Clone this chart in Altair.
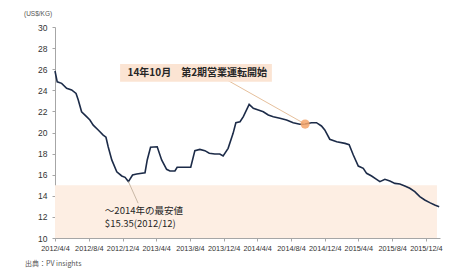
import altair as alt
import pandas as pd

# ---- price series (US$/kg) ----
dates = [
    "2012-04-04", "2012-04-12", "2012-04-28", "2012-05-16", "2012-06-03", "2012-06-19",
    "2012-06-27", "2012-07-09", "2012-07-27", "2012-08-08", "2012-08-20", "2012-09-07",
    "2012-09-25", "2012-10-05", "2012-10-13", "2012-10-26", "2012-11-13", "2012-12-01",
    "2012-12-13", "2012-12-25", "2013-01-09", "2013-01-24", "2013-02-23", "2013-03-03",
    "2013-03-15", "2013-04-08", "2013-04-24", "2013-05-12", "2013-05-24", "2013-06-11",
    "2013-06-19", "2013-08-07", "2013-08-22", "2013-09-09", "2013-09-27", "2013-10-13",
    "2013-11-02", "2013-11-20", "2013-12-02", "2013-12-20", "2014-01-07", "2014-01-17",
    "2014-02-01", "2014-02-13", "2014-03-06", "2014-03-21", "2014-04-08", "2014-04-26",
    "2014-05-14", "2014-06-01", "2014-06-25", "2014-07-19", "2014-08-12", "2014-09-05",
    "2014-09-24", "2014-10-17", "2014-11-04", "2014-11-22", "2014-12-04", "2014-12-22",
    "2015-01-16", "2015-02-15", "2015-03-02", "2015-03-17", "2015-04-04", "2015-04-22",
    "2015-05-04", "2015-05-22", "2015-06-09", "2015-06-21", "2015-07-09", "2015-07-27",
    "2015-08-14", "2015-09-01", "2015-09-19", "2015-10-07", "2015-10-25", "2015-11-12",
    "2015-11-30", "2015-12-18", "2016-01-05", "2016-01-21",
]
prices = [
    25.83, 24.80, 24.66, 24.19, 24.03, 23.70,
    23.08, 21.97, 21.50, 21.18, 20.70, 20.24,
    19.76, 19.55, 18.65, 17.40, 16.28, 15.88,
    15.75, 15.35, 15.97, 16.07, 16.19, 17.40,
    18.60, 18.65, 17.40, 16.51, 16.35, 16.35,
    16.70, 16.70, 18.28, 18.40, 18.28, 18.03,
    17.96, 17.96, 17.77, 18.50, 19.92, 20.93,
    21.02, 21.50, 22.67, 22.29, 22.13, 21.97,
    21.66, 21.50, 21.35, 21.18, 20.93, 20.78,
    20.80, 20.93, 20.93, 20.62, 20.24, 19.36,
    19.13, 18.97, 18.85, 17.87, 16.82, 16.60,
    16.13, 15.88, 15.56, 15.34, 15.56, 15.40,
    15.18, 15.12, 14.93, 14.71, 14.39, 13.92,
    13.60, 13.35, 13.13, 12.97,
]

# ---- axis ticks ----
tick_dates = [(2012, 4), (2012, 8), (2012, 12), (2013, 4), (2013, 8), (2013, 12),
              (2014, 4), (2014, 8), (2014, 12), (2015, 4), (2015, 8), (2015, 12)]
y_ticks = [10, 12, 14, 16, 18, 20, 22, 24, 26, 28, 30]

# ---- annotations ----
band_x = ["2012-04-04"]
band_x2 = ["2016-01-13"]
band_low = [10]
band_high = [15]

note1_text = ["14年10月　第2期営業運転開始"]
note1_box_x = ["2012-11-25"]
note1_box_x2 = ["2014-05-27"]
note1_box_y = [24.8]
note1_box_y2 = [26.5]
note1_text_x = ["2012-12-22"]
note1_text_y = [25.65]
note1_leader_x = ["2013-12-16"]
note1_leader_y = [24.98]
marker_x = ["2014-09-24"]
marker_y = [20.8]

note2_lines = ["～2014年の最安値", "$15.35(2012/12)"]
note2_x = ["2012-10-01", "2012-10-01"]
note2_y = [12.55, 11.3]
low_x = ["2012-12-25"]
low_y = [15.35]
note2_leader_x = ["2013-01-29"]
note2_leader_y = [13.3]

source_text = ["出典：PV insights"]
unit_text = ["(US$/KG)"]

JP = "Noto Sans CJK JP"

df = pd.DataFrame({"date": dates, "price": prices})

x_scale = alt.Scale(
    type="utc",
    domain=[alt.DateTime(year=2012, month=4, date=4, utc=True),
            alt.DateTime(year=2016, month=1, date=24, utc=True)],
)
y_scale = alt.Scale(domain=[10, 30], nice=False, zero=False)

x_axis = alt.Axis(
    values=[alt.DateTime(year=y, month=m, date=4, utc=True) for y, m in tick_dates],
    format="%Y/%-m/%-d", title=None, grid=False, labelOverlap=False,
    labelFont="Liberation Sans", labelFontSize=7.3, labelColor="#333333",
    domainColor="#a6a6a6", tickColor="#a6a6a6", tickSize=3, labelPadding=3,
    labelFlush=False,
)
y_axis = alt.Axis(
    values=y_ticks, title=None, grid=False, labelOverlap=False,
    labelFont="Liberation Sans", labelFontSize=8.5, labelColor="#333333",
    domainColor="#a6a6a6", tickColor="#a6a6a6", tickSize=3, labelPadding=5,
)

band = alt.Chart(pd.DataFrame({"x": band_x, "x2": band_x2, "y": band_low, "y2": band_high})).mark_rect(
    color="#fdeee3"
).encode(
    x=alt.X("x:T", scale=x_scale, axis=x_axis),
    x2="x2:T",
    y=alt.Y("y:Q", scale=y_scale, axis=y_axis),
    y2="y2:Q",
)

line = alt.Chart(df).mark_line(color="#1c2b48", strokeWidth=1.6).encode(
    x=alt.X("date:T", scale=x_scale, axis=x_axis),
    y=alt.Y("price:Q", scale=y_scale, axis=y_axis),
)

leader1 = alt.Chart(pd.DataFrame({"x": note1_leader_x, "y": note1_leader_y,
                                  "x2": marker_x, "y2": marker_y})).mark_rule(
    color="#e6c09c", strokeWidth=1
).encode(x=alt.X("x:T", scale=x_scale, axis=x_axis), y=alt.Y("y:Q", scale=y_scale, axis=y_axis),
         x2="x2:T", y2="y2:Q")

box1 = alt.Chart(pd.DataFrame({"x": note1_box_x, "x2": note1_box_x2,
                               "y": note1_box_y, "y2": note1_box_y2})).mark_rect(
    color="#fbe4d3"
).encode(x=alt.X("x:T", scale=x_scale, axis=x_axis), x2="x2:T",
         y=alt.Y("y:Q", scale=y_scale, axis=y_axis), y2="y2:Q")

text1 = alt.Chart(pd.DataFrame({"x": note1_text_x, "y": note1_text_y, "t": note1_text})).mark_text(
    align="left", baseline="middle", font=JP, fontSize=10, fontWeight="bold", color="#262626"
).encode(x=alt.X("x:T", scale=x_scale, axis=x_axis), y=alt.Y("y:Q", scale=y_scale, axis=y_axis),
         text="t:N")

marker = alt.Chart(pd.DataFrame({"x": marker_x, "y": marker_y})).mark_circle(
    size=85, color="#f4a46a", opacity=0.85
).encode(x=alt.X("x:T", scale=x_scale, axis=x_axis), y=alt.Y("y:Q", scale=y_scale, axis=y_axis))

leader2 = alt.Chart(pd.DataFrame({"x": low_x, "y": low_y,
                                  "x2": note2_leader_x, "y2": note2_leader_y})).mark_rule(
    color="#c9b8a6", strokeWidth=1
).encode(x=alt.X("x:T", scale=x_scale, axis=x_axis), y=alt.Y("y:Q", scale=y_scale, axis=y_axis),
         x2="x2:T", y2="y2:Q")

text2 = alt.Chart(pd.DataFrame({"x": note2_x, "y": note2_y, "t": note2_lines})).mark_text(
    align="left", baseline="middle", font=JP, fontSize=9.5, color="#262626"
).encode(x=alt.X("x:T", scale=x_scale, axis=x_axis), y=alt.Y("y:Q", scale=y_scale, axis=y_axis),
         text="t:N")

unit = alt.Chart(pd.DataFrame({"t": unit_text})).mark_text(
    align="left", baseline="middle", font="Liberation Sans", fontSize=6.5, color="#555555"
).encode(x=alt.value(-31), y=alt.value(-13), text="t:N")

source = alt.Chart(pd.DataFrame({"t": source_text})).mark_text(
    align="left", baseline="middle", font=JP, fontSize=7, color="#555555"
).encode(x=alt.value(-30), y=alt.value(237), text="t:N")

chart = alt.layer(
    band, line, leader1, box1, text1, marker, leader2, text2, unit, source
).properties(
    width=385, height=211,
    autosize=alt.AutoSizeParams(type="none"),
    padding={"left": 55, "top": 27, "right": 29, "bottom": 32},
    background="white",
).configure_view(stroke=None).configure_axis(labelOverlap=False)

chart.save("out.html", embed_options={"renderer": "svg", "actions": False})
